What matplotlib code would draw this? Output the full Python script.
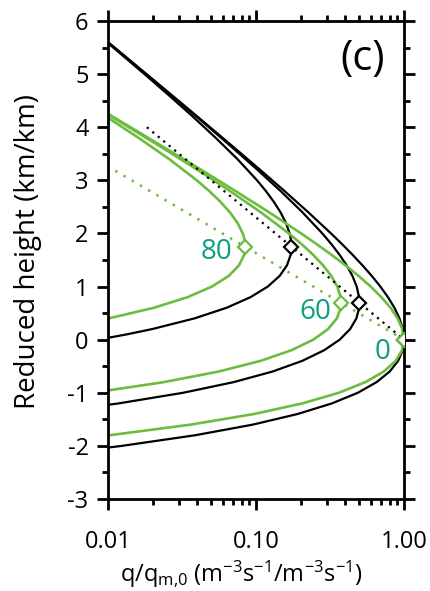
import matplotlib
matplotlib.use("Agg")
import matplotlib.pyplot as plt
from matplotlib.ticker import FixedLocator, NullFormatter

plt.rcParams['font.family'] = ['Open Sans', 'DejaVu Sans']
plt.rcParams['mathtext.fontset'] = 'custom'
plt.rcParams['mathtext.rm'] = 'Open Sans'
plt.rcParams['mathtext.it'] = 'Open Sans:italic'
plt.rcParams['axes.unicode_minus'] = False

# ---- data ----
z_b0 = [-2.1, -2.0, -1.8, -1.6, -1.4, -1.2, -1.0, -0.8, -0.6, -0.4, -0.2, 0.0, 0.2, 0.4, 0.6, 0.8,
        1.0, 1.2, 1.4, 1.6, 1.8, 2.0, 2.4, 2.8, 3.2, 3.6, 4.0, 4.5, 5.0, 5.5, 5.7]
q_b0 = [0.00631, 0.01242, 0.0388, 0.0951, 0.1911, 0.3263, 0.4877, 0.6531, 0.8009, 0.9121, 0.9792,
        1.0, 0.9815, 0.9321, 0.8617, 0.7793, 0.6922, 0.6058, 0.5238, 0.4485, 0.3809, 0.3213,
        0.2252, 0.1556, 0.1064, 0.0723, 0.0489, 0.0299, 0.0182, 0.01107, 0.00906]

z_b60 = [-1.3, -1.2, -1.0, -0.8, -0.6, -0.4, -0.2, 0.0, 0.2, 0.4, 0.6, 0.69, 0.8, 1.0, 1.2, 1.4,
         1.6, 1.8, 2.0, 2.4, 2.8, 3.2, 3.6, 4.0, 4.5, 5.0, 5.5, 5.7]
q_b60 = [0.00649, 0.0118, 0.0322, 0.0706, 0.1295, 0.2051, 0.2885, 0.3679, 0.4328, 0.4768, 0.4978,
         0.5, 0.4972, 0.4791, 0.4483, 0.4094, 0.3665, 0.3228, 0.2806, 0.2057, 0.1464, 0.1021,
         0.0703, 0.0480, 0.02954, 0.01807, 0.01102, 0.00903]

z_b80 = [-0.1, 0.0, 0.1, 0.2, 0.4, 0.6, 0.8, 1.0, 1.2, 1.4, 1.6, 1.75, 1.9, 2.0, 2.2, 2.4, 2.6,
         2.8, 3.0, 3.4, 3.8, 4.2, 4.6, 5.0, 5.4, 5.7]
q_b80 = [0.00517, 0.00858, 0.01343, 0.01994, 0.03838, 0.06327, 0.09186, 0.1202, 0.1445, 0.1620,
         0.1716, 0.1737, 0.1718, 0.1688, 0.1591, 0.1463, 0.1316, 0.1165, 0.1016, 0.0749, 0.0534,
         0.0374, 0.0258, 0.01762, 0.01196, 0.00892]

z_g0 = [-2.0, -1.8, -1.6, -1.4, -1.2, -1.0, -0.8, -0.6, -0.4, -0.2, 0.0, 0.2, 0.4, 0.6, 0.8, 1.0,
        1.2, 1.4, 1.6, 1.8, 2.0, 2.4, 2.8, 3.2, 3.6, 4.0, 4.5]
q_g0 = [0.00205, 0.01023, 0.03624, 0.0970, 0.2061, 0.3633, 0.5484, 0.7312, 0.8783, 0.9708, 1.0,
        0.9740, 0.9056, 0.8107, 0.7036, 0.5953, 0.4933, 0.4018, 0.3228, 0.2564, 0.2017, 0.1222,
        0.0725, 0.0425, 0.0246, 0.01418, 0.00708]

z_g60 = [-1.2, -1.0, -0.8, -0.6, -0.4, -0.2, 0.0, 0.2, 0.4, 0.6, 0.69, 0.8, 1.0, 1.2, 1.4, 1.6,
         1.8, 2.0, 2.4, 2.8, 3.2, 3.6, 4.0, 4.5]
q_g60 = [0.00191, 0.00786, 0.0238, 0.0560, 0.1072, 0.1733, 0.2441, 0.3070, 0.3520, 0.3740, 0.3764,
         0.3734, 0.3543, 0.3226, 0.2838, 0.2428, 0.2030, 0.1667, 0.1075, 0.0666, 0.0401, 0.0237,
         0.01382, 0.00697]

z_g80 = [0.2, 0.4, 0.6, 0.8, 1.0, 1.2, 1.4, 1.6, 1.75, 1.9, 2.0, 2.2, 2.4, 2.6, 2.8, 3.0, 3.4,
         3.8, 4.2, 4.6]
q_g80 = [0.00401, 0.01009, 0.0204, 0.03452, 0.0504, 0.0654, 0.0768, 0.0833, 0.0847, 0.0834,
         0.0814, 0.0749, 0.0665, 0.0573, 0.0482, 0.0398, 0.0259, 0.01609, 0.00972, 0.00576]

peak_z = [0.0, 0.69, 1.75]
peak_q_black = [1.0, 0.5, 0.1737]
peak_q_green = [1.0, 0.376, 0.0847]

dot_black_q = [0.0183, 1.0]
dot_black_z = [4.0, 0.0]
dot_green_q = [0.0112, 1.0]
dot_green_z = [3.18, 0.0]

angle_labels = ["0", "60", "80"]
label_q = [0.72, 0.25, 0.0537]
label_z = [-0.24, 0.52, 1.65]

xtick_vals = [0.01, 0.1, 1.0]
xtick_labels = ["0.01", "0.10", "1.00"]
ytick_vals = [-3, -2, -1, 0, 1, 2, 3, 4, 5, 6]

# ---- styling ----
BLACK = "black"
GREEN = "#6cbd3f"
TEAL = "#0c9f80"

fig = plt.figure(figsize=(4.30, 5.91), dpi=100)
ax = fig.add_axes([0.2512, 0.1557, 0.6883, 0.8088])

for z, q in [(z_b0, q_b0), (z_b60, q_b60), (z_b80, q_b80)]:
    ax.plot(q, z, color=BLACK, lw=1.6, solid_capstyle='round')
for z, q in [(z_g0, q_g0), (z_g60, q_g60), (z_g80, q_g80)]:
    ax.plot(q, z, color=GREEN, lw=1.9, solid_capstyle='round')

ax.plot(dot_black_q, dot_black_z, color=BLACK, lw=1.6, linestyle=(0, (1, 2.2)))
ax.plot(dot_green_q, dot_green_z, color=GREEN, lw=1.8, linestyle=(0, (1, 2.8)))

ax.plot(peak_q_black, peak_z, linestyle='none', marker='D', ms=7.5, mfc='white',
        mec=BLACK, mew=1.6, zorder=5)
ax.plot(peak_q_green, peak_z, linestyle='none', marker='D', ms=7.5, mfc='white',
        mec=GREEN, mew=1.6, zorder=6)

for t, qx, zy in zip(angle_labels, label_q, label_z):
    ax.text(qx, zy, t, color=TEAL, fontsize=20, ha='center', va='center', zorder=7)

ax.text(0.861, 0.92, "(c)", transform=ax.transAxes, fontsize=30, ha='center', va='center',
        color='black')

ax.set_xscale('log')
ax.set_xlim(0.01, 1.0)
ax.set_ylim(-3, 6)

ax.xaxis.set_major_locator(FixedLocator(xtick_vals))
ax.set_xticklabels(xtick_labels)
ax.xaxis.set_minor_locator(FixedLocator([m * d for d in (0.01, 0.1) for m in range(2, 10)]))
ax.xaxis.set_minor_formatter(NullFormatter())
ax.set_yticks(ytick_vals)
ax.set_yticks([v + 0.5 for v in ytick_vals[:-1]], minor=True)

for s in ax.spines.values():
    s.set_linewidth(2.0)

ax.tick_params(which='both', direction='out', top=True, right=True, width=2.0,
               labeltop=False, labelright=False)
ax.tick_params(which='major', length=8)
ax.tick_params(which='minor', length=4)
ax.tick_params(axis='x', which='major', labelsize=17, pad=14)
ax.tick_params(axis='y', which='major', labelsize=17, pad=6)

fig.text(28 / 430, 1 - 252 / 591, "Reduced height (km/km)", fontsize=20, rotation=90,
         ha='center', va='center')
fig.text(241 / 430, 1 - 574 / 591,
         r"q/q$_{\mathrm{m{,}0}}$ (m$^{\mathrm{-3}}$s$^{\mathrm{-1}}$/m$^{\mathrm{-3}}$s$^{\mathrm{-1}}$)",
         fontsize=17, ha='center', va='center')

fig.savefig("out.png", dpi=100)
